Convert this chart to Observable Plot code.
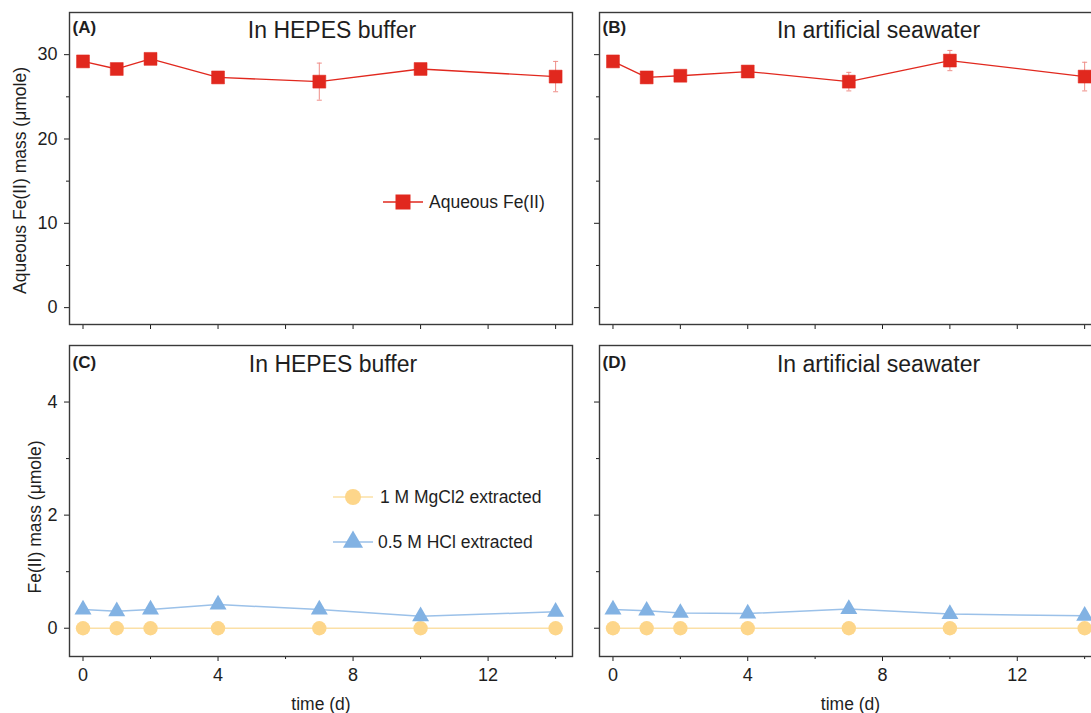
<!DOCTYPE html>
<html><head><meta charset="utf-8">
<script src="https://cdn.jsdelivr.net/npm/d3@7"></script>
<script src="https://cdn.jsdelivr.net/npm/@observablehq/plot@0.6"></script>
<style>
html,body{margin:0;padding:0;background:#fff;overflow:hidden;}
#wrap{position:relative;width:1091px;height:713px;overflow:hidden;font-family:"Liberation Sans",Arial,Helvetica,sans-serif;}
</style></head><body><div id="wrap"></div>
<script>
// ---- data ----
const days = [0, 1, 2, 4, 7, 10, 14];
const aqHepes    = [29.2, 28.3, 29.5, 27.3, 26.8, 28.3, 27.4];
const aqHepesErr = [0.3, 0.6, 0.3, 0.3, 2.2, 0.6, 1.8];
const aqSea      = [29.2, 27.3, 27.5, 28.0, 26.8, 29.3, 27.4];
const aqSeaErr   = [0.3, 0.7, 0.4, 0.5, 1.1, 1.2, 1.7];
const mgHepes  = [0, 0, 0, 0, 0, 0, 0];
const hclHepes = [0.33, 0.30, 0.33, 0.42, 0.33, 0.21, 0.29];
const mgSea    = [0, 0, 0, 0, 0, 0, 0];
const hclSea   = [0.33, 0.31, 0.27, 0.26, 0.34, 0.25, 0.22];

const xTicks = [0, 2, 4, 6, 8, 10, 12, 14];
const xMajor = [0, 4, 8, 12];
const xMinor = [2, 6, 10, 14];
const yTopMajor = [0, 10, 20, 30];
const yTopMinor = [5, 15, 25];
const yBotMajor = [0, 2, 4];
const yBotMinor = [1, 3];

const panelLetters = ["(A)", "(B)", "(C)", "(D)"];
const mediumTitles = ["In HEPES buffer", "In artificial seawater"];
const yTitles = ["Aqueous Fe(II) mass (μmole)", "Fe(II) mass (μmole)"];
const xTitle = "time (d)";
const seriesNames = ["Aqueous Fe(II)", "1 M MgCl2 extracted", "0.5 M HCl extracted"];

const colors = {red: "#e1281e", redErr: "#ef8e88", yellow: "#fdd68a", yellowLine: "#fbe0a6", blue: "#82b2e3", blueLine: "#9bc1e9", frame: "#3a3a3a", text: "#1e1e1e"};
const font = '"Liberation Sans", Arial, Helvetica, sans-serif';

// ---- helpers ----
const wrap = document.getElementById("wrap");
function place(node, left, top) {
  node.style.position = "absolute";
  node.style.left = left + "px";
  node.style.top = top + "px";
  wrap.appendChild(node);
}
const capSymbol = {draw(ctx, size) { const w = Math.sqrt(size / Math.PI); ctx.moveTo(-w, 0); ctx.lineTo(w, 0); }};
const blank = () => "";

function base(o) {
  return {
    width: o.width, height: o.height,
    marginLeft: o.ml, marginRight: o.mr, marginTop: o.mt, marginBottom: o.mb,
    x: {domain: [-0.4, 14.5]}, y: {domain: o.yDomain},
    style: {background: "transparent", fontFamily: font, fontSize: "18px", color: colors.text, overflow: "visible", maxWidth: "none"}
  };
}

function commonText(o) {
  return [
    Plot.frame({stroke: colors.frame, strokeWidth: 1.4}),
    Plot.text([o.letter], {text: d => d, frameAnchor: "top-left", dx: 3, dy: o.letterDy, fontWeight: "bold", fontSize: 17, textAnchor: "start", lineAnchor: "middle", fill: colors.text}),
    Plot.text([o.title], {text: d => d, frameAnchor: "top", dx: o.titleDx, dy: o.titleDy, fontSize: 23, textAnchor: "middle", lineAnchor: "middle", fill: colors.text}),
    o.yTitle ? Plot.text([o.yTitle], {text: d => d, frameAnchor: "left", dx: o.yTitleDx, dy: o.yTitleDy, rotate: -90, fontSize: 17.5, textAnchor: "middle", lineAnchor: "middle", fill: colors.text}) : null,
    o.xTitle ? Plot.text([o.xTitle], {text: d => d, frameAnchor: "bottom", dy: 48, fontSize: 17.5, textAnchor: "middle", lineAnchor: "middle", fill: colors.text}) : null
  ].filter(m => m);
}

function topPanel(o) {
  const data = days.map((d, i) => ({day: d, v: o.values[i], e: o.errs[i]}));
  return Plot.plot({...base(o), marks: [
    Plot.axisY({ticks: yTopMajor, tickSize: 5, tickPadding: 7, label: null, tickFormat: o.showY ? d => String(d) : blank, fontSize: 18}),
    Plot.axisY({ticks: yTopMinor, tickSize: 3, tickFormat: blank, label: null}),
    Plot.axisX({ticks: xTicks, tickSize: 5, tickFormat: blank, label: null}),
    Plot.lineY(data, {x: "day", y: "v", stroke: colors.red, strokeWidth: 1.3}),
    Plot.ruleX(data, {x: "day", y1: d => d.v - d.e, y2: d => d.v + d.e, stroke: colors.redErr, strokeWidth: 1}),
    Plot.dot(data, {x: "day", y: d => d.v + d.e, symbol: capSymbol, r: 2.5, stroke: colors.redErr, fill: "none", strokeWidth: 1}),
    Plot.dot(data, {x: "day", y: d => d.v - d.e, symbol: capSymbol, r: 2.5, stroke: colors.redErr, fill: "none", strokeWidth: 1}),
    Plot.dot(data, {x: "day", y: "v", symbol: "square", r: 7.3, fill: colors.red, stroke: colors.red, strokeWidth: 0.5}),
    ...commonText(o)
  ]});
}

function bottomPanel(o) {
  const mg = days.map((d, i) => ({day: d, v: o.mg[i]}));
  const hcl = days.map((d, i) => ({day: d, v: o.hcl[i]}));
  return Plot.plot({...base(o), marks: [
    Plot.axisY({ticks: yBotMajor, tickSize: 5, tickPadding: 7, label: null, tickFormat: o.showY ? d => String(d) : blank, fontSize: 18}),
    Plot.axisY({ticks: yBotMinor, tickSize: 3, tickFormat: blank, label: null}),
    Plot.axisX({ticks: xMajor, tickSize: 5, tickPadding: 7, label: null, fontSize: 18}),
    Plot.axisX({ticks: xMinor, tickSize: 3, tickFormat: blank, label: null}),
    Plot.lineY(mg, {x: "day", y: "v", stroke: colors.yellowLine, strokeWidth: 1.5}),
    Plot.lineY(hcl, {x: "day", y: "v", stroke: colors.blueLine, strokeWidth: 1.5}),
    Plot.dot(mg, {x: "day", y: "v", symbol: "circle", r: 7.2, fill: colors.yellow, stroke: "none"}),
    Plot.dot(hcl, {x: "day", y: "v", symbol: "triangle", r: 6.3, fill: colors.blue, stroke: "none"}),
    ...commonText(o)
  ]});
}

const topGeom = {height: 340, mt: 12, mb: 16, yDomain: [-2, 35], letterDy: 15, titleDy: 18};
const botGeom = {height: 383, mt: 15, mb: 57, yDomain: [-0.5, 5], letterDy: 17, titleDy: 19, xTitle};
const leftGeom = {width: 585, ml: 69, mr: 13, showY: true};
const rightGeom = {width: 525, ml: 14, mr: 9, showY: false};

place(topPanel({...topGeom, ...leftGeom, values: aqHepes, errs: aqHepesErr, letter: panelLetters[0], title: mediumTitles[0], titleDx: 11, yTitle: yTitles[0], yTitleDx: -49, yTitleDy: 12}), 0, 0);
place(topPanel({...topGeom, ...rightGeom, values: aqSea, errs: aqSeaErr, letter: panelLetters[1], title: mediumTitles[1], titleDx: 28}), 585, 0);
place(bottomPanel({...botGeom, ...leftGeom, mg: mgHepes, hcl: hclHepes, letter: panelLetters[2], title: mediumTitles[0], titleDx: 12, yTitle: yTitles[1], yTitleDx: -34, yTitleDy: 16}), 0, 330);
place(bottomPanel({...botGeom, ...rightGeom, mg: mgSea, hcl: hclSea, letter: panelLetters[3], title: mediumTitles[1], titleDx: 28}), 585, 330);

// ---- legends (overlay) ----
const leg = d3.create("svg").attr("width", 1091).attr("height", 713)
  .style("pointer-events", "none").style("font-family", font).style("font-size", "17.5px");
function legendRow(g, x, y, line, symbolType, size, fill, label, textX) {
  g.append("line").attr("x1", x - 20).attr("x2", x + 20).attr("y1", y).attr("y2", y).attr("stroke", line).attr("stroke-width", 1.5);
  g.append("path").attr("d", d3.symbol(symbolType, size)()).attr("transform", `translate(${x},${y})`).attr("fill", fill);
  g.append("text").attr("x", textX).attr("y", y).attr("dy", "0.35em").attr("fill", colors.text).text(label);
}
legendRow(leg, 403, 202, colors.red, d3.symbolSquare, 15 * 15, colors.red, seriesNames[0], 429);
legendRow(leg, 353, 497, colors.yellowLine, d3.symbolCircle, Math.PI * 64, colors.yellow, seriesNames[1], 380);
legendRow(leg, 353, 542, colors.blueLine, d3.symbolTriangle, 175, colors.blue, seriesNames[2], 378);
place(leg.node(), 0, 0);
</script></body></html>
